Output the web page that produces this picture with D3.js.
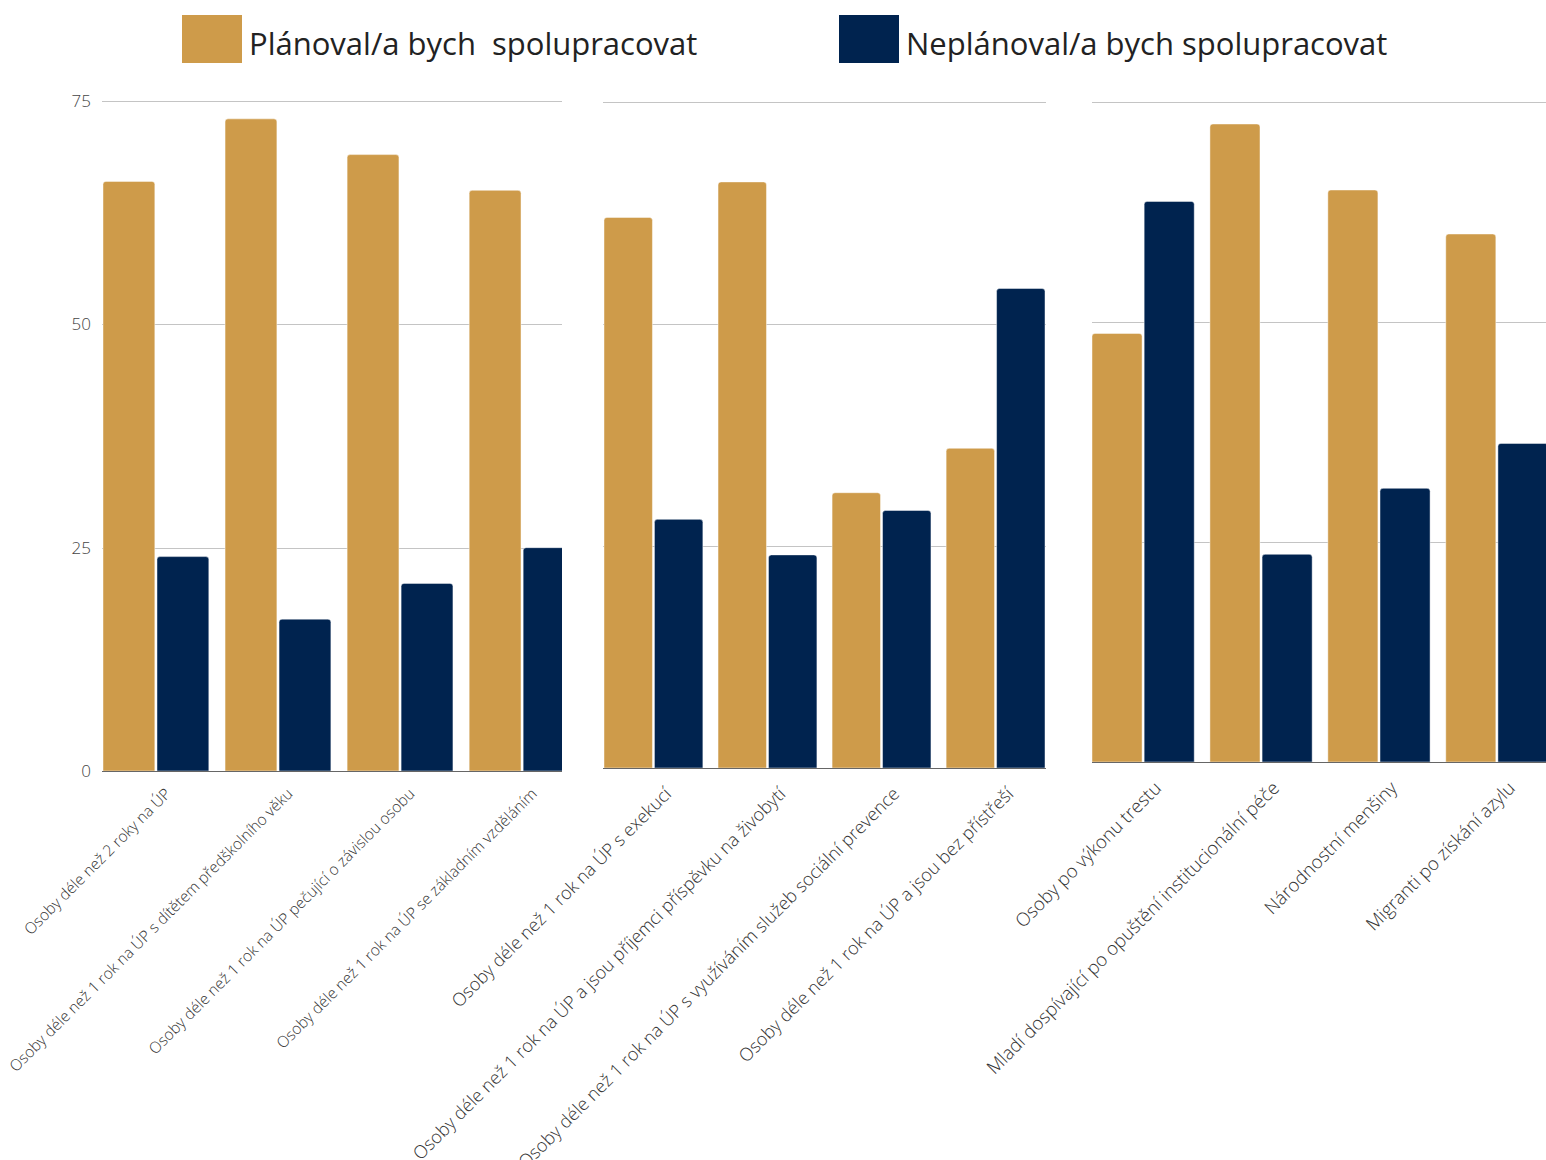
<!DOCTYPE html>
<html>
<head>
<meta charset="utf-8">
<script src="https://cdn.jsdelivr.net/npm/d3@7"></script>
<style>
  body { margin: 0; background: #fff; }
  svg { display: block; font-family: "Open Sans", sans-serif; }
</style>
</head>
<body>
<div id="chart"></div>
<script>
const seriesNames = ["Plánoval/a bych  spolupracovat", "Neplánoval/a bych spolupracovat"];
const yTicks = [0, 25, 50, 75];

const categoriesA = [
  "Osoby déle než 2 roky na ÚP",
  "Osoby déle než 1 rok na ÚP s dítětem předškolního věku",
  "Osoby déle než 1 rok na ÚP pečující o závislou osobu",
  "Osoby déle než 1 rok na ÚP se základním vzděláním"
];
const plannedA = [66, 73, 69, 65];
const notPlannedA = [24, 17, 21, 25];

const categoriesB = [
  "Osoby déle než 1 rok na ÚP s exekucí",
  "Osoby déle než 1 rok na ÚP a jsou příjemci příspěvku na živobytí",
  "Osoby déle než 1 rok na ÚP s využíváním služeb sociální prevence",
  "Osoby déle než 1 rok na ÚP a jsou bez přístřeší"
];
const plannedB = [62, 66, 31, 36];
const notPlannedB = [28, 24, 29, 54];

const categoriesC = [
  "Osoby po výkonu trestu",
  "Mladí dospívající po opuštění institucionální péče",
  "Národnostní menšiny",
  "Migranti po získání azylu"
];
const plannedC = [48.7, 72.5, 65, 60];
const notPlannedC = [63.7, 23.6, 31.1, 36.2];

const colors = ["#ce9b4a", "#00234f"];

const width = 1546, height = 1160;

const panels = [
  { cats: categoriesA, a: plannedA, b: notPlannedA, left: 102, right: 562, x0: 103, x1: 575, top: 101, bottom: 771, font: 15.5, off: [8, 16], yAxis: true },
  { cats: categoriesB, a: plannedB, b: notPlannedB, left: 603, right: 1046, x0: 604, x1: 1045, top: 102, bottom: 768, font: 18, off: [10, 18] },
  { cats: categoriesC, a: plannedC, b: notPlannedC, left: 1092, right: 1546, x0: 1092, x1: 1548, top: 102, bottom: 762, font: 18.5, off: [10, 18], ySliver: [1056.5, 1058.5] }
];

const svg = d3.select("#chart").append("svg")
  .attr("width", width)
  .attr("height", height);

// rectangle with rounded top corners only
function topRounded(x, y, w, h, r) {
  r = Math.min(r, w / 2, h);
  return `M${x},${y + h}V${y + r}Q${x},${y} ${x + r},${y}H${x + w - r}Q${x + w},${y} ${x + w},${y + r}V${y + h}Z`;
}

panels.forEach((p, pi) => {
  const y = d3.scaleLinear().domain([0, 75]).range([p.bottom, p.top]);
  const x = d3.scaleBand().domain(p.cats).range([p.x0, p.x1]).paddingInner(0.133).paddingOuter(0);
  const xs = d3.scaleBand().domain([0, 1]).range([0, x.bandwidth()]).paddingInner(0.04);

  const clipId = "clip" + pi;
  svg.append("clipPath").attr("id", clipId)
    .append("rect")
    .attr("x", p.left).attr("y", 0)
    .attr("width", p.right - p.left).attr("height", p.bottom + 2);

  const g = svg.append("g").attr("clip-path", `url(#${clipId})`);

  g.append("g")
    .selectAll("line")
    .data(yTicks.filter(t => t > 0))
    .join("line")
    .attr("x1", p.left).attr("x2", p.right)
    .attr("y1", d => Math.round(y(d)) + 0.5).attr("y2", d => Math.round(y(d)) + 0.5)
    .attr("stroke", "#c4c4c4")
    .attr("stroke-width", 1);

  const rows = p.cats.map((c, i) => ({ cat: c, vals: [p.a[i], p.b[i]] }));

  g.append("g")
    .selectAll("g")
    .data(rows)
    .join("g")
    .attr("transform", d => `translate(${x(d.cat)},0)`)
    .selectAll("path")
    .data(d => d.vals.map((v, k) => ({ v, k })))
    .join("path")
    .attr("d", d => topRounded(xs(d.k), y(d.v), xs.bandwidth(), y(0) - y(d.v), 3))
    .attr("fill", d => colors[d.k])
    .attr("stroke", "#fff")
    .attr("stroke-opacity", 0.45)
    .attr("stroke-width", 1);

  g.append("line")
    .attr("x1", p.left).attr("x2", p.right)
    .attr("y1", p.bottom + 0.5).attr("y2", p.bottom + 0.5)
    .attr("stroke", "#666")
    .attr("stroke-width", 1);

  const xAxis = svg.append("g")
    .attr("transform", `translate(0,${p.bottom})`)
    .call(d3.axisBottom(x).tickSize(0));
  xAxis.select(".domain").remove();
  xAxis.selectAll("text")
    .attr("x", 0).attr("y", 0).attr("dy", "0.71em")
    .attr("transform", `translate(${p.off[0]},${p.off[1]}) rotate(-45)`)
    .attr("text-anchor", "end")
    .attr("fill", "#333")
    .attr("font-family", "'Open Sans', sans-serif")
    .attr("font-weight", 300)
    .attr("font-size", p.font);

  if (p.yAxis) {
    const yAxis = svg.append("g")
      .attr("transform", `translate(${p.left},0)`)
      .call(d3.axisLeft(y).tickValues(yTicks).tickSize(0).tickPadding(11));
    yAxis.select(".domain").remove();
    yAxis.selectAll("text")
      .attr("fill", "#444")
      .attr("font-family", "'Open Sans', sans-serif")
      .attr("font-weight", 300)
      .attr("font-size", 17);
  }

  // hidden tick labels of this panel peek out as thin slivers
  if (p.ySliver) {
    const sid = "sliver" + pi;
    svg.append("clipPath").attr("id", sid)
      .append("rect")
      .attr("x", p.ySliver[0]).attr("y", 0)
      .attr("width", p.ySliver[1] - p.ySliver[0]).attr("height", height);
    const ys = svg.append("g")
      .attr("clip-path", `url(#${sid})`)
      .attr("transform", `translate(${p.ySliver[1] + 1},0)`)
      .call(d3.axisLeft(y).tickValues(yTicks.filter(t => t > 0)).tickSize(0).tickPadding(0));
    ys.select(".domain").remove();
    ys.selectAll("text")
      .attr("fill", "#999")
      .attr("font-family", "'Open Sans', sans-serif")
      .attr("font-weight", 300)
      .attr("font-size", 17);
  }
});

// legend
const legendX = [182, 839];
const legend = svg.append("g")
  .selectAll("g")
  .data(seriesNames)
  .join("g")
  .attr("transform", (d, i) => `translate(${legendX[i]},15)`);
legend.append("rect")
  .attr("width", 60).attr("height", 48)
  .attr("fill", (d, i) => colors[i]);
legend.append("text")
  .attr("x", 67).attr("y", 40)
  .style("white-space", "pre")
  .attr("font-size", 31)
  .attr("font-weight", 400)
  .attr("fill", "#222")
  .text(d => d);
</script>
</body>
</html>
